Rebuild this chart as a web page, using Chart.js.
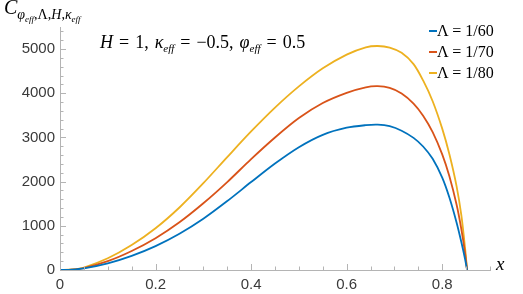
<!DOCTYPE html>
<html>
<head>
<meta charset="utf-8">
<script src="https://cdn.jsdelivr.net/npm/chart.js@4"></script>
<style>
  html, body { margin: 0; padding: 0; background: #fff; }
  #wrap { position: relative; width: 523px; height: 294px; }
  .math { position: absolute; font-family: 'Liberation Serif', serif; color: #000; white-space: nowrap; }
  .sub { position: relative; }
  .eq { margin: 0 6px; }
  .gap { margin-left: 6px; }
  .legend-row { position: absolute; left: 429px; font-family: 'Liberation Serif', serif; font-size: 16px; white-space: nowrap; }
  .dash { display: inline-block; width: 8px; height: 2px; vertical-align: middle; position: relative; top: -1px; }
</style>
</head>
<body>
<div id="wrap">
  <canvas id="chart" width="523" height="294"></canvas>

  <div class="math" style="left:4px; top:-4px; font-size:20px;">
    <i>C</i><span class="sub" style="font-size:14px; top:5px;"><i>φ</i><span class="sub" style="font-size:9px; top:3px;"><i>eff</i></span>,Λ,<i>H</i>,<i>κ</i><span class="sub" style="font-size:9px; top:3px;"><i>eff</i></span></span>
  </div>

  <div class="math" style="left:100px; top:32px; font-size:18px;">
    <i>H</i><span class="eq">=</span>1,<i class="gap">κ</i><span class="sub" style="font-size:11px; top:4px;"><i>eff</i></span><span class="eq">=</span>−0.5,<i class="gap">φ</i><span class="sub" style="font-size:11px; top:4px;"><i>eff</i></span><span class="eq">=</span>0.5
  </div>

  <div class="math" style="left:496px; top:253px; font-size:19px;"><i>x</i></div>

  <div id="legend"></div>
</div>

<script>
// x positions shared by all curves
const xValues = [0, 0.025, 0.05, 0.1, 0.15, 0.2, 0.25, 0.3, 0.35, 0.4, 0.45, 0.5, 0.55, 0.6, 0.64, 0.665,
  0.69, 0.715, 0.74, 0.76, 0.78, 0.8, 0.815, 0.83, 0.84, 0.848, 0.852];

// series
const lambda60 = [0, 8, 35, 150, 320, 540, 820, 1160, 1560, 1990, 2410, 2780, 3060, 3220, 3278, 3290,
  3255, 3153, 2990, 2795, 2517, 2090, 1640, 1077, 633, 238, 0];
const lambda70 = [0, 10, 45, 200, 430, 720, 1080, 1510, 1990, 2510, 3000, 3440, 3780, 4010, 4135, 4160,
  4120, 3995, 3767, 3492, 3121, 2617, 2121, 1481, 925, 368, 0];
const lambda80 = [0, 12, 55, 265, 565, 945, 1415, 1965, 2555, 3135, 3675, 4155, 4565, 4875, 5040, 5070,
  5035, 4915, 4660, 4290, 3820, 3200, 2620, 1900, 1240, 480, 0];

const seriesLabels = ['Λ = 1/60', 'Λ = 1/70', 'Λ = 1/80'];
const seriesColors = ['#0072BD', '#D95319', '#EDB120'];

// ticks
const xMajorTicks = [0, 0.2, 0.4, 0.6, 0.8];
const xMinorTicks = [0.05, 0.1, 0.15, 0.25, 0.3, 0.35, 0.45, 0.5, 0.55, 0.65, 0.7, 0.75, 0.85, 0.9];
const yMajorTicks = [0, 1000, 2000, 3000, 4000, 5000];
const yMinorTicks = [200, 400, 600, 800, 1200, 1400, 1600, 1800, 2200, 2400, 2600, 2800,
  3200, 3400, 3600, 3800, 4200, 4400, 4600, 4800, 5200, 5400];

const axisColor = '#b4b4b4';
const labelColor = '#3a3a3a';

function toPoints(ys) {
  return xValues.map((x, i) => ({ x: x, y: ys[i] }));
}

// Mathematica style ticks pointing into the frame
const inwardTicks = {
  id: 'inwardTicks',
  afterDraw(chart) {
    const { ctx, chartArea: a, scales: { x, y } } = chart;
    ctx.save();
    ctx.strokeStyle = axisColor;
    ctx.lineWidth = 1;
    ctx.beginPath();
    xMajorTicks.concat(xMinorTicks).forEach(v => {
      const len = xMajorTicks.includes(v) ? 6 : 3.5;
      const px = Math.round(x.getPixelForValue(v)) + 0.5;
      ctx.moveTo(px, a.bottom);
      ctx.lineTo(px, a.bottom - len);
    });
    yMajorTicks.concat(yMinorTicks).forEach(v => {
      const len = yMajorTicks.includes(v) ? 6 : 3.5;
      const py = Math.round(y.getPixelForValue(v)) + 0.5;
      ctx.moveTo(a.left, py);
      ctx.lineTo(a.left + len, py);
    });
    ctx.stroke();
    ctx.restore();
  }
};

const datasets = [lambda60, lambda70, lambda80].map((ys, i) => ({
  label: seriesLabels[i],
  data: toPoints(ys),
  borderColor: seriesColors[i],
  borderWidth: 1.8,
  pointRadius: 0,
  fill: false,
  tension: 0.3
}));

new Chart('chart', {
  type: 'line',
  data: { datasets: datasets },
  options: {
    responsive: false,
    animation: false,
    layout: { padding: { top: 27, right: 33, left: 0, bottom: 0 } },
    plugins: { legend: { display: false }, tooltip: { enabled: false } },
    scales: {
      x: {
        type: 'linear',
        min: 0,
        max: 0.9,
        afterBuildTicks: s => { s.ticks = xMajorTicks.map(v => ({ value: v })); },
        afterFit: s => { s.height = 24; },
        grid: { display: false, drawTicks: false },
        border: { display: true, color: axisColor, width: 1 },
        ticks: {
          padding: 6,
          color: labelColor,
          font: { family: 'Liberation Sans', size: 15 },
          maxRotation: 0,
          callback: v => v === 0 ? '0' : v.toFixed(1)
        }
      },
      y: {
        type: 'linear',
        min: 0,
        max: 5500,
        afterBuildTicks: s => { s.ticks = yMajorTicks.map(v => ({ value: v })); },
        afterFit: s => { s.width = 60; },
        grid: { display: false, drawTicks: false },
        border: { display: true, color: axisColor, width: 1 },
        ticks: {
          padding: 5,
          color: labelColor,
          font: { family: 'Liberation Sans', size: 15 },
          callback: v => String(v)
        }
      }
    }
  },
  plugins: [inwardTicks]
});

// legend built from the series names and colours
const legend = document.getElementById('legend');
seriesLabels.forEach((name, i) => {
  const row = document.createElement('div');
  row.className = 'legend-row';
  row.style.top = (22 + i * 21) + 'px';
  row.innerHTML = '<span class="dash" style="background:' + seriesColors[i] + '"></span>' + name;
  legend.appendChild(row);
});
</script>
</body>
</html>
